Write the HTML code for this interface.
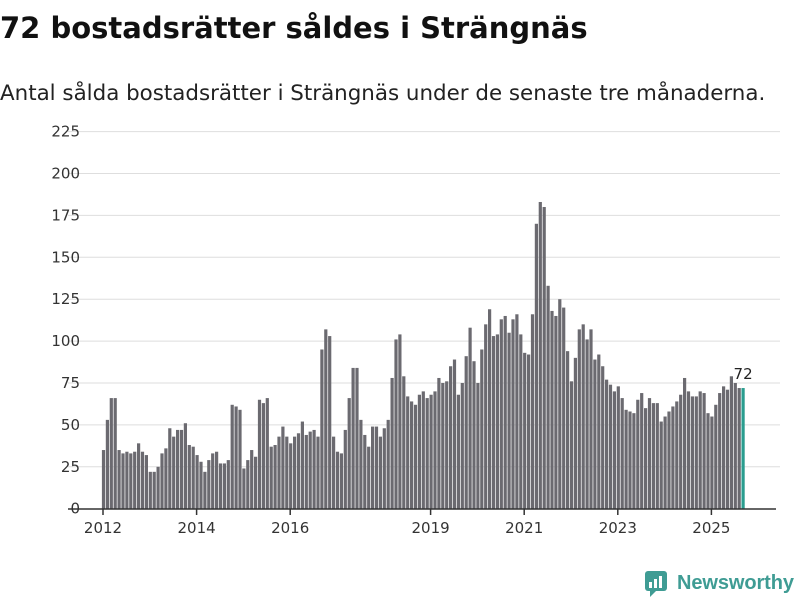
<!DOCTYPE html>
<html><head><meta charset="utf-8"><style>
body{margin:0;background:#fff;width:800px;height:600px;overflow:hidden;font-family:"DejaVu Sans","Liberation Sans",sans-serif}
</style></head><body>
<svg id="chart" width="800" height="600" xmlns="http://www.w3.org/2000/svg">
<text x="0" y="38" font-size="29" font-weight="bold" fill="#111">72 bostadsrätter såldes i Strängnäs</text>
<text x="0" y="100" font-size="21.4" fill="#222">Antal sålda bostadsrätter i Strängnäs under de senaste tre månaderna.</text>
<g id="grid"></g>
<g id="yaxis"></g>
<g id="bars"></g>
<g id="xaxis"></g>
<g>
<rect x="645" y="571" width="22" height="20" rx="3" fill="#3f9c94"/>
<path d="M650 591 L650 597 L656 591 Z" fill="#3f9c94"/>
<rect x="649" y="582" width="3" height="6" fill="#fff"/><rect x="654" y="579" width="3" height="9" fill="#fff"/><rect x="659" y="576" width="3" height="12" fill="#fff"/>
<text x="677" y="589" font-size="20" font-weight="bold" fill="#3f9c94" font-family="Liberation Sans, sans-serif" textLength="117">Newsworthy</text>
</g>
</svg>
<script>
const values=[35,53,66,66,35,33,34,33,34,39,34,32,22,22,25,33,36,48,43,47,47,51,38,37,32,28,22,29,33,34,27,27,29,62,61,59,24,29,35,31,65,63,
66,37,38,43,49,43,39,43,45,52,44,46,47,43,95,107,103,43,34,33,47,66,84,84,53,44,37,49,49,43,48,53,78,101,104,79,67,64,62,68,70,66,
68,70,78,75,76,85,89,68,75,91,108,88,75,95,110,119,103,104,113,115,105,113,116,104,93,92,116,170,183,180,133,118,115,125,120,94,76,90,107,110,101,107,89,
92,85,77,74,70,73,66,59,58,57,65,69,60,66,63,63,52,55,58,61,64,68,78,70,67,67,70,69,57,55,62,69,73,71,79,75,72,72];
const yTicks=[0,25,50,75,100,125,150,175,200,225];
const xTickYears=[2012,2014,2016,2019,2021,2023,2025];
const startYear=2012;
const NS="http://www.w3.org/2000/svg";
const y0=508.7,ppu=1.676;
const y=v=>y0-v*ppu;
const step=3.9,x0=103.5;
const x=i=>x0+i*step;
const xYear=yr=>103+(yr-startYear)*12*step;
function mk(t,a){const e=document.createElementNS(NS,t);for(const k in a)e.setAttribute(k,a[k]);return e;}
const grid=document.getElementById('grid'),ya=document.getElementById('yaxis');
yTicks.forEach(t=>{
 if(t>0){const l=mk('line',{x1:68,x2:780,y1:y(t),y2:y(t),stroke:'#dedede','stroke-width':1});
 
 grid.appendChild(l);}
 const tx=mk('text',{x:80,y:y(t)+5,'text-anchor':'end','font-size':15,fill:'#333'});
 
 
 tx.textContent=t;ya.appendChild(tx);
});
const bars=document.getElementById('bars');
values.forEach((v,i)=>{
 const last=i===values.length-1;
 const r=mk('rect',{x:x(i)-1.6,y:y(v),width:3.2,height:v*ppu,fill:last?'#2a9d8f':'#6b6a70'});
 
 
 bars.appendChild(r);
 if(last){const lb=mk('text',{x:x(i),y:y(v)-9,'text-anchor':'middle','font-size':15,fill:'#222'});
 
 
 lb.textContent=v;bars.appendChild(lb);}
});
const xa=document.getElementById('xaxis');
xa.appendChild(mk('line',{x1:68,x2:776,y1:509,y2:509,stroke:'#333','stroke-width':1.5}));
xTickYears.forEach(yr=>{
 const px=xYear(yr);
 xa.appendChild(mk('line',{x1:px,x2:px,y1:509,y2:515,stroke:'#333','stroke-width':1.5}));
 const t=mk('text',{x:px,y:533,'text-anchor':'middle','font-size':15,fill:'#333'});
 
 
 t.textContent=yr;xa.appendChild(t);
});
</script>
</body></html>
